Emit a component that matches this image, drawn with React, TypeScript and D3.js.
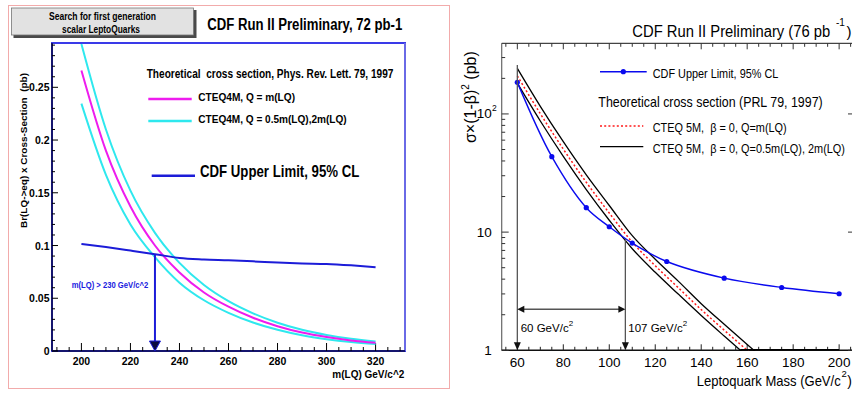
import React from 'react';
import * as d3 from 'd3';

// ---- Left panel: Br(LQ->eq) x cross-section vs m(LQ) ----
const massL = [200, 210, 220, 230, 240, 250, 260, 270, 280, 290, 300, 310, 320];
const theoryCentralL = [0.266, 0.19, 0.137, 0.1, 0.0745, 0.0555, 0.042, 0.0315, 0.0235, 0.0175, 0.0132, 0.01, 0.0078];
const theoryHighL = [0.291, 0.21, 0.152, 0.112, 0.0835, 0.0625, 0.0472, 0.0357, 0.0268, 0.0201, 0.0152, 0.0116, 0.009];
const theoryLowL = [0.2345, 0.167, 0.12, 0.089, 0.0648, 0.0481, 0.0362, 0.027, 0.0201, 0.0149, 0.0112, 0.0085, 0.0066];
const limitL = [0.1015, 0.0985, 0.0952, 0.0918, 0.0882, 0.0868, 0.086, 0.085, 0.0838, 0.083, 0.0825, 0.0812, 0.0795];
const xTicksL = [200, 220, 240, 260, 280, 300, 320];
const xTickLabelsL = ['200', '220', '240', '260', '280', '300', '320'];
const yTicksL = [0, 0.05, 0.1, 0.15, 0.2, 0.25];
const yTickLabelsL = ['0', '0.05', '0.1', '0.15', '0.2', '0.25'];
const massLimitL = 230;

// ---- Right panel: sigma x (1-beta)^2 vs leptoquark mass ----
const massLimitR = [60, 75, 90, 100, 110, 125, 150, 175, 200];
const limitR = [185, 43.5, 16.1, 11.1, 8.07, 5.64, 4.08, 3.4, 3.01];
const massTheoryR = [60, 70, 80, 90, 100, 110, 120, 130, 140, 150, 160, 170, 180, 190, 200];
const theoryLowR = [182, 87.1, 43.7, 22.9, 12.6, 7.24, 4.57, 2.99, 1.97, 1.32, 0.891, 0.603, 0.407, 0.275, 0.186];
const theoryCentralR = [210, 100.5, 50.4, 26.4, 14.5, 8.22, 5.19, 3.39, 2.21, 1.48, 1.0, 0.676, 0.457, 0.309, 0.209];
const theoryHighR = [243, 116, 58.2, 30.5, 16.8, 9.33, 5.89, 3.85, 2.48, 1.66, 1.12, 0.759, 0.513, 0.347, 0.234];
const xTicksR = [60, 80, 100, 120, 140, 160, 180, 200];
const xTickLabelsR = ['60', '80', '100', '120', '140', '160', '180', '200'];
const exclusionLowR = 60;
const exclusionHighR = 107;
const exclusionCrossR = 8.7;
const exclusionTopR = 260;
const exclusionBarR = 2.22;

const BOLD = "'Liberation Sans', Arial, Helvetica, sans-serif";
const REG = "'Liberation Sans', Arial, Helvetica, sans-serif";

const zip = (xs: number[], ys: number[]) => xs.map((x, i) => [x, ys[i]] as [number, number]);

export default function App() {
  const L = { x0: 52, x1: 405, y0: 43, y1: 351 };
  const R = { x0: 501.7, x1: 852, y0: 43.3, y1: 350.3 };

  const xL = d3.scaleLinear().domain([188, 332]).range([L.x0, L.x1]);
  const yL = d3.scaleLinear().domain([0, 0.292]).range([L.y1, L.y0]);
  const xR = d3.scaleLinear().domain([53.2, 205.6]).range([R.x0, R.x1]);
  const yR = d3.scaleLog().domain([1, 396]).range([R.y1, R.y0]);

  const lineL = d3.line<[number, number]>().x(d => xL(d[0])).y(d => yL(d[1])).curve(d3.curveMonotoneX);
  const lineR = d3.line<[number, number]>().x(d => xR(d[0])).y(d => yR(d[1])).curve(d3.curveMonotoneX);
  const limitLineR = d3.line<[number, number]>().x(d => xR(d[0])).y(d => yR(d[1])).curve(d3.curveCatmullRom.alpha(0.5));

  const yMinorL = d3.range(0, 0.2905, 0.01);
  const xMinorL = d3.range(190, 331, 5);
  const xMinorR = d3.range(55, 206, 5);
  const yMinorR: number[] = [];
  [1, 10, 100].forEach(dec => d3.range(1, 10).forEach(k => { if (k * dec <= 396) yMinorR.push(k * dec); }));

  const limitAt230 = limitL[massL.indexOf(massLimitL)];
  const ax = xL(massLimitL);

  const gray = '#555';
  const tri = (pts: number[][]) => pts.map(p => p.join(',')).join(' ');

  return (
    <svg width={852} height={397} style={{ position: 'absolute', left: 0, top: 0, background: '#fff' }}>
      <rect x={0} y={0} width={852} height={397} fill="#fff" />
      <defs>
        <clipPath id="clipR">
          <rect x={R.x0} y={R.y0} width={R.x1 - R.x0} height={R.y1 - R.y0 + 0.8} />
        </clipPath>
      </defs>

      {/* ---------- Left panel ---------- */}
      <rect x={8.5} y={5.5} width={441} height={383} fill="none" stroke="#f2abab" strokeWidth={1} />

      {/* label box with shadow */}
      <rect x={13.5} y={10} width={183} height={28} fill="#4a4a4a" />
      <rect x={11.5} y={8} width={182} height={27} fill="#e2e2e2" stroke="#777" strokeWidth={0.8} />
      <text x={102.5} y={19.5} fontFamily={BOLD} fontWeight="bold" fontSize={10.5} textAnchor="middle" textLength={107} lengthAdjust="spacingAndGlyphs">Search for first generation</text>
      <text x={101} y={33} fontFamily={BOLD} fontWeight="bold" fontSize={10.5} textAnchor="middle" textLength={78} lengthAdjust="spacingAndGlyphs">scalar LeptoQuarks</text>

      <text x={207.3} y={30} fontFamily={BOLD} fontWeight="bold" fontSize={16} textLength={195} lengthAdjust="spacingAndGlyphs">CDF Run II Preliminary, 72 pb-1</text>

      {/* frame */}
      <rect x={L.x0} y={L.y0} width={L.x1 - L.x0} height={L.y1 - L.y0} fill="none" stroke="#3a3ae8" strokeWidth={2} />
      <line x1={L.x1} y1={L.y0} x2={L.x1} y2={L.y1} stroke="#6a6ae6" strokeWidth={2} />
      <line x1={L.x0} y1={L.y0} x2={L.x0} y2={L.y1} stroke="#15156e" strokeWidth={2} />
      <line x1={L.x0} y1={L.y1} x2={L.x1} y2={L.y1} stroke="#15156e" strokeWidth={2} />

      {/* y ticks */}
      {yMinorL.map((v, i) => (
        <line key={'ymL' + i} x1={L.x0} x2={L.x0 + (i % 5 === 0 ? 6 : 3)} y1={yL(v)} y2={yL(v)} stroke="#000" strokeWidth={1} />
      ))}
      {yTicksL.map((v, i) => (
        <text key={'ylL' + i} x={49.5} y={yL(v) + 4} fontFamily={BOLD} fontWeight="bold" fontSize={10.5} textAnchor="end">{yTickLabelsL[i]}</text>
      ))}
      {/* x ticks */}
      {xMinorL.map((m, i) => (
        <line key={'xmL' + i} x1={xL(m)} x2={xL(m)} y1={L.y1} y2={L.y1 - ((m - 200) % 20 === 0 ? 8 : 4)} stroke="#000" strokeWidth={1} />
      ))}
      {xTicksL.map((m, i) => (
        <text key={'xlL' + i} x={xL(m)} y={365} fontFamily={BOLD} fontWeight="bold" fontSize={10.5} textAnchor="middle">{xTickLabelsL[i]}</text>
      ))}
      <text x={404.3} y={378.3} fontFamily={BOLD} fontWeight="bold" fontSize={11.5} textAnchor="end" textLength={72} lengthAdjust="spacingAndGlyphs">m(LQ) GeV/c^2</text>
      <text transform="translate(26.5,150.5) rotate(-90)" fontFamily={BOLD} fontWeight="bold" fontSize={9.5} textAnchor="middle" textLength={155} lengthAdjust="spacingAndGlyphs" style={{ whiteSpace: 'pre' }}>Br(LQ-&gt;eq) x Cross-Section  (pb)</text>

      {/* curves */}
      <path d={lineL(zip(massL, theoryHighL)) || ''} fill="none" stroke="#2ee8ee" strokeWidth={2} />
      <path d={lineL(zip(massL, theoryLowL)) || ''} fill="none" stroke="#2ee8ee" strokeWidth={2} />
      <path d={lineL(zip(massL, theoryCentralL)) || ''} fill="none" stroke="#ee1cee" strokeWidth={2} />
      <path d={lineL(zip(massL, limitL)) || ''} fill="none" stroke="#1c1cd8" strokeWidth={2} />

      {/* exclusion arrow */}
      <line x1={ax} x2={ax} y1={yL(limitAt230)} y2={L.y1 - 9} stroke="#1c1cd8" strokeWidth={2} />
      <polygon points={tri([[ax - 5.5, L.y1 - 10], [ax + 5.5, L.y1 - 10], [ax, L.y1]])} fill="#0c0c40" stroke="#1c1cd8" strokeWidth={1} />
      <text x={71.7} y={288.3} fontFamily={BOLD} fontWeight="bold" fontSize={9} fill="#2020e0" textLength={76.6} lengthAdjust="spacingAndGlyphs">m(LQ) &gt; 230 GeV/c^2</text>

      {/* legend */}
      <text x={146.7} y={77.7} fontFamily={BOLD} fontWeight="bold" fontSize={12.5} textLength={246.7} lengthAdjust="spacingAndGlyphs" style={{ whiteSpace: 'pre' }}>Theoretical  cross section, Phys. Rev. Lett. 79, 1997</text>
      <line x1={148.3} x2={191.7} y1={99} y2={99} stroke="#ee1cee" strokeWidth={2.5} />
      <text x={198.3} y={100.7} fontFamily={BOLD} fontWeight="bold" fontSize={11.5} textLength={96.7} lengthAdjust="spacingAndGlyphs">CTEQ4M, Q = m(LQ)</text>
      <line x1={148.3} x2={191.7} y1={121} y2={121} stroke="#2ee8ee" strokeWidth={2.5} />
      <text x={198.3} y={123.3} fontFamily={BOLD} fontWeight="bold" fontSize={11.5} textLength={148.4} lengthAdjust="spacingAndGlyphs">CTEQ4M, Q = 0.5m(LQ),2m(LQ)</text>
      <line x1={151.7} x2={195} y1={175.7} y2={175.7} stroke="#1c1cd8" strokeWidth={2.5} />
      <text x={200} y={176.5} fontFamily={BOLD} fontWeight="bold" fontSize={17} textLength={159.3} lengthAdjust="spacingAndGlyphs">CDF Upper Limit, 95% CL</text>

      {/* ---------- Right panel ---------- */}
      <text x={632.3} y={36.7} fontFamily={REG} fontSize={16} textLength={198} lengthAdjust="spacingAndGlyphs">CDF Run II Preliminary (76 pb</text>
      <text x={836} y={26} fontFamily={REG} fontSize={10}>-1</text>
      <text x={846.5} y={36.7} fontFamily={REG} fontSize={15}>)</text>

      {/* axes */}
      <line x1={R.x0} x2={R.x0} y1={R.y0} y2={R.y1} stroke="#666" strokeWidth={1.2} />
      <line x1={R.x0} x2={R.x1} y1={R.y1} y2={R.y1} stroke="#111" strokeWidth={1.4} />
      <line x1={R.x0} x2={R.x1} y1={R.y0} y2={R.y0} stroke="#444" strokeWidth={1.2} />
      {yMinorR.map((v, i) => {
        const major = [1, 10, 100].includes(v);
        return (
          <g key={'ymR' + i}>
            <line x1={R.x0} x2={R.x0 + (major ? 7 : 3.5)} y1={yR(v)} y2={yR(v)} stroke="#333" strokeWidth={1} />
            {major && <line x1={R.x1} x2={R.x1 - 4} y1={yR(v)} y2={yR(v)} stroke="#333" strokeWidth={1} />}
          </g>
        );
      })}
      {xMinorR.map((m, i) => {
        const major = (m - 60) % 20 === 0;
        const len = major ? 6 : 3.5;
        return (
          <g key={'xmR' + i}>
            <line x1={xR(m)} x2={xR(m)} y1={R.y1} y2={R.y1 - len} stroke="#222" strokeWidth={1} />
            <line x1={xR(m)} x2={xR(m)} y1={R.y0} y2={R.y0 + len} stroke="#333" strokeWidth={1} />
          </g>
        );
      })}
      {xTicksR.map((m, i) => (
        <text key={'xlR' + i} x={xR(m)} y={366.7} fontFamily={REG} fontSize={13.5} textAnchor="middle">{xTickLabelsR[i]}</text>
      ))}
      <text x={491.7} y={yR(1) + 5} fontFamily={REG} fontSize={13.5} textAnchor="end">1</text>
      <text x={491.7} y={yR(10) + 5} fontFamily={REG} fontSize={13.5} textAnchor="end">10</text>
      <text x={491.7} y={yR(100) + 4.5} fontFamily={REG} fontSize={13.5} textAnchor="end">10</text>
      <text x={492} y={yR(100) - 3} fontFamily={REG} fontSize={8.5}>2</text>

      <text x={696.7} y={386} fontFamily={REG} fontSize={15} textLength={144} lengthAdjust="spacingAndGlyphs">Leptoquark Mass (GeV/c</text>
      <text x={841.5} y={377} fontFamily={REG} fontSize={9.5}>2</text>
      <text x={847.3} y={386} fontFamily={REG} fontSize={14}>)</text>

      <text transform="translate(475.5,143) rotate(-90)" fontFamily={REG} fontSize={16}>
        σ×(1-β)<tspan dy={-7} fontSize={10}>2</tspan><tspan dy={7}> (pb)</tspan>
      </text>

      {/* theory curves */}
      <g clipPath="url(#clipR)">
        <path d={lineR(zip(massTheoryR, theoryHighR)) || ''} fill="none" stroke="#000" strokeWidth={1.3} />
        <path d={lineR(zip(massTheoryR, theoryLowR)) || ''} fill="none" stroke="#000" strokeWidth={1.3} />
        <path d={lineR(zip(massTheoryR, theoryCentralR)) || ''} fill="none" stroke="#ff1a1a" strokeWidth={1.5} strokeDasharray="2,2.2" />
      </g>
      <line x1={xR(157)} x2={xR(200)} y1={R.y1 - 0.5} y2={R.y1 - 0.5} stroke="#000" strokeWidth={1.5} />

      {/* upper limit */}
      <path d={limitLineR(zip(massLimitR, limitR)) || ''} fill="none" stroke="#0a0aee" strokeWidth={1.4} />
      {massLimitR.map((m, i) => (
        <circle key={'pR' + i} cx={xR(m)} cy={yR(limitR[i])} r={2.6} fill="#0a0aee" />
      ))}

      {/* excluded mass range */}
      <line x1={xR(exclusionLowR)} x2={xR(exclusionLowR)} y1={yR(exclusionTopR)} y2={R.y1 - 7} stroke={gray} strokeWidth={1.3} />
      <polygon points={tri([[xR(exclusionLowR) - 3.5, R.y1 - 8], [xR(exclusionLowR) + 3.5, R.y1 - 8], [xR(exclusionLowR), R.y1]])} fill="#111" />
      <line x1={xR(exclusionHighR)} x2={xR(exclusionHighR)} y1={yR(exclusionCrossR)} y2={R.y1 - 7} stroke={gray} strokeWidth={1.3} />
      <polygon points={tri([[xR(exclusionHighR) - 3.5, R.y1 - 8], [xR(exclusionHighR) + 3.5, R.y1 - 8], [xR(exclusionHighR), R.y1]])} fill="#111" />
      <line x1={xR(exclusionLowR) + 6} x2={xR(exclusionHighR) - 6} y1={yR(exclusionBarR)} y2={yR(exclusionBarR)} stroke={gray} strokeWidth={1.5} />
      <polygon points={tri([[xR(exclusionLowR), yR(exclusionBarR)], [xR(exclusionLowR) + 7, yR(exclusionBarR) - 3.5], [xR(exclusionLowR) + 7, yR(exclusionBarR) + 3.5]])} fill="#111" />
      <polygon points={tri([[xR(exclusionHighR), yR(exclusionBarR)], [xR(exclusionHighR) - 7, yR(exclusionBarR) - 3.5], [xR(exclusionHighR) - 7, yR(exclusionBarR) + 3.5]])} fill="#111" />
      <text x={520.7} y={331.7} fontFamily={REG} fontSize={11.5}>60 GeV/c<tspan dy={-6} fontSize={8}>2</tspan></text>
      <text x={628.3} y={331.7} fontFamily={REG} fontSize={11.5}>107 GeV/c<tspan dy={-6} fontSize={8}>2</tspan></text>

      {/* legend */}
      <line x1={600} x2={646.7} y1={71.7} y2={71.7} stroke="#0a0aee" strokeWidth={1.4} />
      <circle cx={623.3} cy={71.7} r={2.6} fill="#0a0aee" />
      <text x={652.7} y={78.3} fontFamily={REG} fontSize={13} textLength={125.6} lengthAdjust="spacingAndGlyphs">CDF Upper Limit, 95% CL</text>
      <text x={598.3} y={107.3} fontFamily={REG} fontSize={14.5} textLength={224.4} lengthAdjust="spacingAndGlyphs">Theoretical cross section (PRL 79, 1997)</text>
      <line x1={600} x2={643.3} y1={126} y2={126} stroke="#ff1a1a" strokeWidth={1.5} strokeDasharray="2,2.2" />
      <text x={652.7} y={131.7} fontFamily={REG} fontSize={12.5} textLength={134} lengthAdjust="spacingAndGlyphs" style={{ whiteSpace: 'pre' }}>CTEQ 5M,  β = 0, Q=m(LQ)</text>
      <line x1={600} x2={643.3} y1={146.7} y2={146.7} stroke="#000" strokeWidth={1.3} />
      <text x={652.7} y={153.3} fontFamily={REG} fontSize={12.5} textLength={192.3} lengthAdjust="spacingAndGlyphs" style={{ whiteSpace: 'pre' }}>CTEQ 5M,  β = 0, Q=0.5m(LQ), 2m(LQ)</text>
    </svg>
  );
}
